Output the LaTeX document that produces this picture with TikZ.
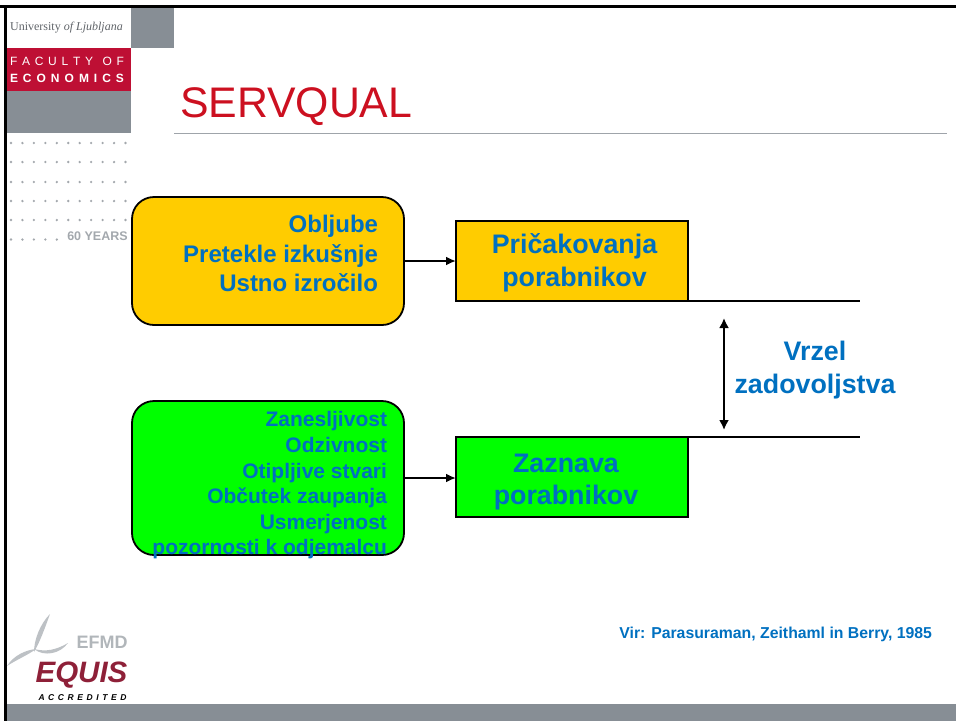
\documentclass[tikz,border=0pt]{standalone}
\usepackage{fontspec}
\setmainfont{Liberation Sans}
\newfontfamily\serifpart{Liberation Serif}
\usetikzlibrary{arrows.meta,backgrounds}
\definecolor{slidegray}{HTML}{878E95}
\definecolor{facultyred}{HTML}{BE0F34}
\definecolor{titlered}{HTML}{CC1020}
\definecolor{equisred}{HTML}{8E2038}
\definecolor{textblue}{HTML}{0070C0}
\definecolor{dotgray}{HTML}{A3A8AD}
\definecolor{boxyellow}{HTML}{FFCC00}
\definecolor{boxgreen}{HTML}{00FF00}
\tikzset{
  every node/.style={inner sep=0pt,outer sep=0pt},
  causebox/.style={draw=black,line width=1.8pt,rounded corners=22pt,minimum width=272pt},
  resultbox/.style={draw=black,line width=1.8pt,minimum width=232pt,minimum height=80pt},
  resulttext/.style={text=textblue,align=center,font=\bfseries\fontsize{26.8}{32.8}\selectfont},
  causetext/.style={text=textblue,align=right,anchor=east},
  link/.style={line width=2.2pt,-{Latex[length=10pt,width=9pt]}},
  gapline/.style={line width=1.1pt}
}
\begin{document}
\begin{tikzpicture}[x=1pt,y=-1pt]
  \useasboundingbox (0,0) rectangle (956,721);

  % slide frame and grey parts
  \fill [black] (0,5) rectangle (956,7.5);
  \fill [black] (4,5) rectangle (7,721);
  \fill [slidegray] (131,7.5) rectangle (174,48);
  \fill [facultyred] (7,48) rectangle (131,91);
  \fill [slidegray] (7,91) rectangle (131,133);
  \fill [slidegray] (7,704) rectangle (956,721);

  % logo top
  \node (university) at (66.5,27.5) {\serifpart\fontsize{12}{12}\selectfont\color{slidegray!70!black}University \textit{of Ljubljana}};
  \node (faculty) at (67,61) {\makebox[114pt][s]{\fontsize{12}{12}\selectfont\color{white}F\hfill A\hfill C\hfill U\hfill L\hfill T\hfill Y\hfill\hfill O\hfill F}};
  \node (economics) at (67,78) {\makebox[114pt][s]{\bfseries\fontsize{12}{12}\selectfont\color{white}E\hfill C\hfill O\hfill N\hfill O\hfill M\hfill I\hfill C\hfill S}};
  \foreach \row in {143,162,182,201,220}
    \foreach \col in {0,...,10}
      \fill [dotgray] (11+\col*11.45,\row) circle (1.3pt);
  \foreach \col in {0,...,4}
    \fill [dotgray] (11+\col*11.45,239.5) circle (1.3pt);
  \node (years) at (97.5,236.5) {\bfseries\fontsize{12.5}{12}\selectfont\color{dotgray}60 YEARS};

  % title
  \node [anchor=west,text=titlered] (title) at (180,107) {\fontsize{42.8}{48}\selectfont SERVQUAL};
  \draw [slidegray!80,line width=1pt] (174,133) -- (947,133);

  % upper row
  \node [causebox,fill=boxyellow,minimum height=128pt] (expectsrc) at (268,261) {};
  \node [causetext,font=\bfseries\fontsize{24}{29.5}\selectfont] (expecttext) at (378,253.5) {Obljube\\Pretekle izkušnje\\Ustno izročilo};
  \node [resultbox,fill=boxyellow] (expect) at (572,261) {};
  \node [resulttext] (expecttitle) at (574.5,263) {Pričakovanja\\porabnikov};
  \draw [link] (expectsrc) -- (expect);

  % lower row
  \node [causebox,fill=boxgreen,minimum height=154pt] (percsrc) at (268,478) {};
  \node [causetext,font=\bfseries\fontsize{21}{25.6}\selectfont] (perctext) at (387,485.5) {Zanesljivost\\Odzivnost\\Otipljive stvari\\Občutek zaupanja\\Usmerjenost\\pozornosti k odjemalcu};
  \node [resultbox,fill=boxgreen] (perc) at (572,477) {};
  \node [resulttext] (perctitle) at (566,482) {Zaznava\\porabnikov};
  \draw [link] (percsrc.east) -- (perc.west |- percsrc.east);

  % the gap
  \coordinate (expectend) at (860,301);
  \coordinate (percend) at (860,437);
  \coordinate (gaptop) at (724,318);
  \coordinate (gapbottom) at (724,430);
  \draw [gapline] (expect.south east) -- (expectend);
  \draw [gapline] (perc.north east) -- (percend);
  \draw [line width=2.2pt,{Latex[length=10pt,width=10pt]}-{Latex[length=10pt,width=10pt]}] (gaptop) -- (gapbottom);
  \node [resulttext] (gaplabel) at (815,370) {Vrzel\\zadovoljstva};

  % source
  \node [anchor=east,text=textblue,font=\bfseries\fontsize{15.8}{16}\selectfont] (source) at (932,634) {Vir: Parasuraman, Zeithaml in Berry, 1985};

  % logo bottom
  \fill [slidegray!55] (50,614) .. controls (40,624) and (34,640) .. (34,652) .. controls (39,644) and (45,628) .. (50,614) -- cycle;
  \fill [slidegray!55] (7,666) .. controls (14,655) and (26,650) .. (36,649) .. controls (28,655) and (16,660) .. (7,666) -- cycle;
  \fill [slidegray!55] (34,649) .. controls (46,652) and (56,650) .. (68,643) .. controls (60,654) and (44,657) .. (34,649) -- cycle;
  \node (efmd) at (102,642) {\bfseries\fontsize{18}{20}\selectfont\color{slidegray!65}EFMD};
  \node (equis) at (81.5,675) {\bfseries\itshape\fontsize{29.5}{30}\selectfont\color{equisred}EQUIS};
  \node (accredited) at (82.5,698) {\makebox[88pt][s]{\bfseries\itshape\fontsize{8.5}{10}\selectfont A\hfill C\hfill C\hfill R\hfill E\hfill D\hfill I\hfill T\hfill E\hfill D}};
\end{tikzpicture}
\end{document}
